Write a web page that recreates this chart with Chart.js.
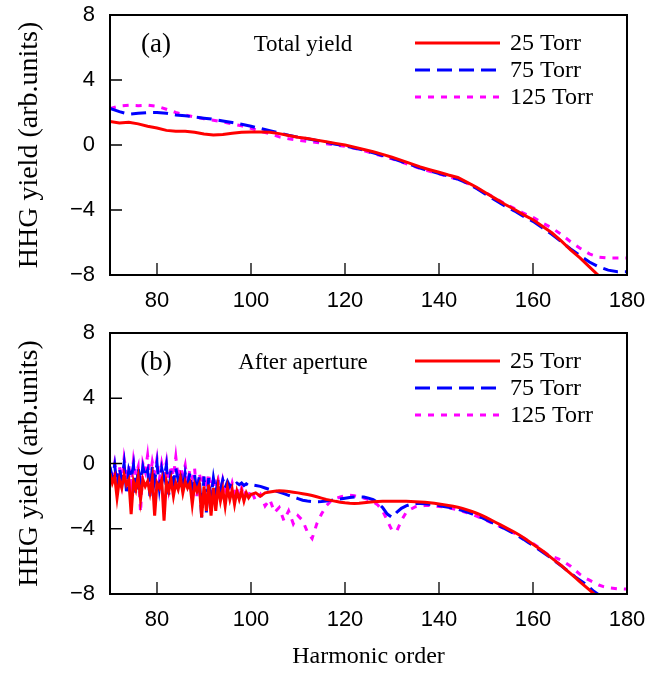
<!DOCTYPE html>
<html>
<head>
<meta charset="utf-8">
<title>HHG yield</title>
<script src="https://cdn.jsdelivr.net/npm/chart.js@4.4.1/dist/chart.umd.min.js"></script>
<style>
  body { margin: 0; background: #fff; }
  #boxA { position: absolute; left: 0; top: 0; }
  #boxB { position: absolute; left: 0; top: 318px; }
</style>
</head>
<body>
<div id="boxA"><canvas id="chartA" width="653" height="318"></canvas></div>
<div id="boxB"><canvas id="chartB" width="653" height="357"></canvas></div>
<script>
// series names and tick labels
const seriesLabels = ['25 Torr', '75 Torr', '125 Torr'];
const xTickValues = [80, 100, 120, 140, 160, 180];
const yTickValues = [-8, -4, 0, 4, 8];

// panel (a): total yield, harmonic order every 2
const harmA = [70, 72, 74, 76, 78, 80, 82, 84, 86, 88,
  90, 92, 94, 96, 98, 100, 102, 104, 106, 108,
  110, 112, 114, 116, 118, 120, 122, 124, 126, 128,
  130, 132, 134, 136, 138, 140, 142, 144, 146, 148,
  150, 152, 154, 156, 158, 160, 162, 164, 166, 168,
  170, 172, 174, 176, 178, 180];
const totalTorr25 = [1.45, 1.35, 1.4, 1.3, 1.15, 1.05, 0.9, 0.85, 0.85, 0.78,
  0.68, 0.62, 0.65, 0.72, 0.78, 0.8, 0.8, 0.78, 0.7, 0.58,
  0.48, 0.4, 0.3, 0.2, 0.1, 0.0, -0.13, -0.28, -0.42, -0.58,
  -0.75, -0.95, -1.15, -1.35, -1.52, -1.68, -1.85, -2.0, -2.3, -2.6,
  -2.95, -3.3, -3.65, -3.95, -4.3, -4.6, -5.0, -5.4, -5.9, -6.45,
  -6.95, -7.5, -8.05, -8.6, null, null];
const totalTorr75 = [2.25, 2.05, 1.9, 1.95, 2.0, 2.0, 1.95, 1.85, 1.8, 1.72,
  1.65, 1.58, 1.48, 1.38, 1.28, 1.15, 1.02, 0.88, 0.75, 0.6,
  0.48, 0.38, 0.28, 0.17, 0.05, -0.05, -0.18, -0.32, -0.48, -0.65,
  -0.82, -1.02, -1.22, -1.42, -1.6, -1.75, -1.92, -2.1, -2.35, -2.68,
  -3.05, -3.4, -3.75, -4.05, -4.4, -4.7, -5.1, -5.5, -5.95, -6.4,
  -6.8, -7.2, -7.5, -7.7, -7.8, -7.8];
const totalTorr125 = [2.25, 2.4, 2.45, 2.42, 2.45, 2.38, 2.2, 2.0, 1.85, 1.72,
  1.62, 1.52, 1.42, 1.3, 1.18, 1.02, 0.85, 0.7, 0.5, 0.38,
  0.3, 0.22, 0.15, 0.08, 0.0, -0.08, -0.2, -0.35, -0.52, -0.68,
  -0.85, -1.05, -1.25, -1.45, -1.62, -1.78, -1.95, -2.1, -2.35, -2.65,
  -2.95, -3.28, -3.6, -3.9, -4.2, -4.45, -4.8, -5.1, -5.5, -5.95,
  -6.35, -6.7, -6.9, -6.95, -6.95, -6.95];

// panel (b): after aperture, every half order up to 100, then every order
const harmB = [70, 70.5, 71, 71.5, 72, 72.5, 73, 73.5, 74, 74.5,
  75, 75.5, 76, 76.5, 77, 77.5, 78, 78.5, 79, 79.5,
  80, 80.5, 81, 81.5, 82, 82.5, 83, 83.5, 84, 84.5,
  85, 85.5, 86, 86.5, 87, 87.5, 88, 88.5, 89, 89.5,
  90, 90.5, 91, 91.5, 92, 92.5, 93, 93.5, 94, 94.5,
  95, 95.5, 96, 96.5, 97, 97.5, 98, 98.5, 99, 99.5,
  100, 101, 102, 103, 104, 105, 106, 107, 108, 109,
  110, 111, 112, 113, 114, 115, 116, 117, 118, 119,
  120, 121, 122, 123, 124, 125, 126, 127, 128, 129,
  130, 131, 132, 133, 134, 135, 136, 137, 138, 139,
  140, 141, 142, 143, 144, 145, 146, 147, 148, 149,
  150, 151, 152, 153, 154, 155, 156, 157, 158, 159,
  160, 161, 162, 163, 164, 165, 166, 167, 168, 169,
  170, 171, 172, 173, 174, 175, 176, 177, 178, 179,
  180];
const apertureTorr25 = [-0.6, -1.2, -0.8, -2.1, -1.0, -1.5, -0.7, -1.3, -1.0, -3.1,
  -1.1, -1.6, -0.8, -2.2, -1.0, -1.4, -1.1, -1.8, -0.9, -3.2,
  -1.2, -1.5, -1.0, -3.5, -1.1, -1.7, -1.0, -2.0, -1.2, -1.6,
  -0.9, -1.8, -1.1, -1.5, -1.2, -2.5, -1.3, -1.7, -1.3, -3.3,
  -1.4, -2.9, -1.3, -3.2, -1.5, -2.9, -1.4, -2.3, -1.6, -2.6,
  -1.5, -2.2, -1.6, -2.5, -1.7, -2.2, -1.7, -2.3, -1.8, -2.1,
  -1.9, -1.8, -2.0, -1.8, -1.75, -1.7, -1.67, -1.68, -1.72, -1.76,
  -1.8, -1.85, -1.9, -1.96, -2.04, -2.12, -2.2, -2.26, -2.32, -2.37,
  -2.41, -2.44, -2.45, -2.44, -2.41, -2.38, -2.35, -2.33, -2.32, -2.31,
  -2.31, -2.31, -2.31, -2.32, -2.33, -2.34, -2.36, -2.38, -2.41, -2.44,
  -2.48, -2.52, -2.57, -2.62, -2.68, -2.75, -2.84, -2.94, -3.05, -3.17,
  -3.3, -3.45, -3.6, -3.75, -3.9, -4.05, -4.2, -4.37, -4.55, -4.75,
  -4.95, -5.15, -5.35, -5.58, -5.8, -6.03, -6.25, -6.5, -6.75, -7.0,
  -7.25, -7.5, -7.75, -8.0, -8.25, null, null, null, null, null,
  null];
const apertureTorr75 = [-0.2, -0.9, -0.1, -1.4, -0.3, -1.0, 0.0, -1.7, -0.4, -0.9,
  -0.1, -1.9, -0.3, -1.2, -0.2, -0.8, -0.4, -2.0, -0.2, -1.1,
  0.0, -1.5, -0.3, -0.9, -0.1, -1.9, -0.4, -1.2, -0.3, -1.0,
  -0.5, -1.7, -0.6, -1.3, -0.6, -2.2, -0.7, -1.9, -0.8, -3.3,
  -0.8, -3.0, -0.9, -2.1, -0.9, -1.8, -1.0, -1.6, -1.0, -1.5,
  -1.1, -1.4, -1.15, -1.3, -1.2, -1.3, -1.2, -1.35, -1.25, -1.35,
  -1.3, -1.35, -1.4, -1.5, -1.6, -1.68, -1.75, -1.85, -1.95, -2.05,
  -2.15, -2.25, -2.3, -2.33, -2.34, -2.33, -2.3, -2.26, -2.22, -2.18,
  -2.13, -2.08, -2.05, -2.04, -2.06, -2.12, -2.22, -2.4, -2.7, -3.1,
  -3.3, -3.0, -2.75, -2.6, -2.5, -2.45, -2.45, -2.47, -2.5, -2.54,
  -2.58, -2.63, -2.68, -2.74, -2.81, -2.89, -2.98, -3.08, -3.19, -3.31,
  -3.44, -3.58, -3.72, -3.86, -4.0, -4.15, -4.3, -4.47, -4.65, -4.84,
  -5.03, -5.22, -5.42, -5.62, -5.83, -6.05, -6.27, -6.5, -6.72, -6.95,
  -7.15, -7.35, -7.6, -7.85, -8.05, null, null, null, null, null,
  null];
const apertureTorr125 = [-0.3, -1.0, 0.0, -0.8, -0.2, -1.2, 0.3, -0.6, -0.1, -1.3,
  0.2, -0.7, -0.2, -3.0, 0.0, -0.5, 0.5, -0.9, 0.1, -0.6,
  0.3, -1.0, 0.0, -0.7, 0.1, -1.4, -0.1, -0.8, 0.4, -0.9,
  -0.2, -0.7, -0.1, -1.2, -0.4, -0.9, -0.3, -2.0, -0.6, -1.3,
  -0.7, -1.5, -0.6, -1.9, -0.8, -1.4, -1.0, -1.9, -1.0, -1.6,
  -1.1, -1.8, -1.2, -1.8, -1.4, -2.0, -1.5, -2.1, -1.6, -2.0,
  -1.6, -2.3, -1.9, -2.6, -2.2, -3.0, -2.7, -3.5, -2.9, -3.7,
  -3.2, -3.5, -4.2, -4.6, -3.7, -3.1, -2.6, -2.3, -2.15, -2.05,
  -1.98, -1.95, -1.98, -2.05, -2.12, -2.22, -2.35, -2.55, -2.9, -3.5,
  -4.1, -4.15, -3.5, -3.0, -2.8, -2.65, -2.6, -2.58, -2.58, -2.6,
  -2.63, -2.67, -2.72, -2.78, -2.85, -2.93, -3.02, -3.12, -3.23, -3.35,
  -3.48, -3.61, -3.74, -3.87, -4.0, -4.13, -4.27, -4.42, -4.57, -4.73,
  -4.9, -5.1, -5.35, -5.55, -5.7, -5.8, -5.92, -6.1, -6.3, -6.55,
  -6.8, -7.0, -7.15, -7.3, -7.45, -7.55, -7.62, -7.65, -7.68, -7.68,
  -7.7];

const colors = ['#ff0000', '#0000ff', '#ff00ff'];
const dashes = [[], [15, 7], [6, 7]];
const serif = '"Liberation Serif", "Times New Roman", serif';
const sans = '"Liberation Sans", Arial, sans-serif';

function makeSets(xs, seriesList) {
  return seriesList.map((ys, i) => ({
    label: seriesLabels[i],
    data: xs.map((x, j) => ({ x: x, y: ys[j] })),
    borderColor: colors[i],
    backgroundColor: colors[i],
    borderWidth: 3,
    borderDash: dashes[i],
    pointRadius: 0,
    tension: 0,
    fill: false
  }));
}

// frame, inward ticks, panel label and legend inside the plot
const panelDecor = {
  id: 'panelDecor',
  afterDatasetsDraw(chart, args, opts) {
    const { ctx, chartArea: a, scales: { x, y } } = chart;
    ctx.save();
    ctx.strokeStyle = '#000';
    ctx.lineWidth = 1.3;
    ctx.beginPath();
    x.ticks.forEach(t => {
      const px = x.getPixelForValue(t.value);
      ctx.moveTo(px, a.bottom);
      ctx.lineTo(px, a.bottom - 12);
    });
    y.ticks.forEach(t => {
      const py = y.getPixelForValue(t.value);
      ctx.moveTo(a.left, py);
      ctx.lineTo(a.left + 12, py);
    });
    ctx.stroke();
    ctx.lineWidth = 2;
    ctx.strokeRect(a.left, a.top, a.right - a.left, a.bottom - a.top);

    ctx.fillStyle = '#000';
    ctx.textBaseline = 'middle';
    ctx.textAlign = 'center';
    ctx.font = '27px ' + serif;
    ctx.fillText(opts.tag, a.left + 46, a.top + 30);
    ctx.font = '23px ' + serif;
    ctx.fillText(opts.title, a.left + 193, a.top + 30);

    ctx.textAlign = 'left';
    ctx.font = '24px ' + serif;
    chart.data.datasets.forEach((ds, i) => {
      const ly = a.top + 28 + i * 27;
      ctx.strokeStyle = ds.borderColor;
      ctx.lineWidth = ds.borderWidth;
      ctx.setLineDash(ds.borderDash);
      ctx.beginPath();
      ctx.moveTo(a.left + 305, ly);
      ctx.lineTo(a.left + 390, ly);
      ctx.stroke();
      ctx.setLineDash([]);
      ctx.fillStyle = '#000';
      ctx.fillText(ds.label, a.left + 400, ly + 1);
    });
    ctx.restore();
  }
};

function makeScales(xHeight, showXTitle) {
  return {
    x: {
      type: 'linear',
      min: 70,
      max: 180,
      afterBuildTicks: s => { s.ticks = xTickValues.map(v => ({ value: v })); },
      grid: { display: false, drawTicks: false },
      border: { display: false },
      ticks: { color: '#000', font: { family: sans, size: 22 }, padding: 13, maxRotation: 0, autoSkip: false },
      title: { display: showXTitle, text: 'Harmonic order', color: '#000', font: { family: serif, size: 24 }, padding: { top: 0, bottom: 4 } },
      afterFit: s => { s.height = xHeight; s.paddingLeft = 0; s.paddingRight = 0; }
    },
    y: {
      min: -8,
      max: 8,
      afterBuildTicks: s => { s.ticks = yTickValues.map(v => ({ value: v })); },
      grid: { display: false, drawTicks: false },
      border: { display: false },
      ticks: {
        color: '#000',
        font: { family: sans, size: 22 },
        padding: 15,
        callback: v => v < 0 ? '\u2212' + Math.abs(v) : String(v)
      },
      title: { display: true, text: 'HHG yield (arb.units)', color: '#000', font: { family: serif, size: 28 }, padding: { top: 13, bottom: 0 } },
      afterFit: s => { s.width = 110; s.paddingTop = 0; s.paddingBottom = 0; }
    }
  };
}

function makeChart(id, xs, seriesList, tag, title, xHeight, showXTitle) {
  return new Chart(document.getElementById(id), {
    type: 'line',
    data: { datasets: makeSets(xs, seriesList) },
    options: {
      responsive: false,
      animation: false,
      devicePixelRatio: 1,
      layout: { padding: { top: 15, right: 26, left: 0, bottom: 0 } },
      scales: makeScales(xHeight, showXTitle),
      plugins: {
        legend: { display: false },
        tooltip: { enabled: false },
        panelDecor: { tag: tag, title: title }
      }
    },
    plugins: [panelDecor]
  });
}

makeChart('chartA', harmA, [totalTorr25, totalTorr75, totalTorr125], '(a)', 'Total yield', 43, false);
makeChart('chartB', harmB, [apertureTorr25, apertureTorr75, apertureTorr125], '(b)', 'After aperture', 81, true);
</script>
</body>
</html>
